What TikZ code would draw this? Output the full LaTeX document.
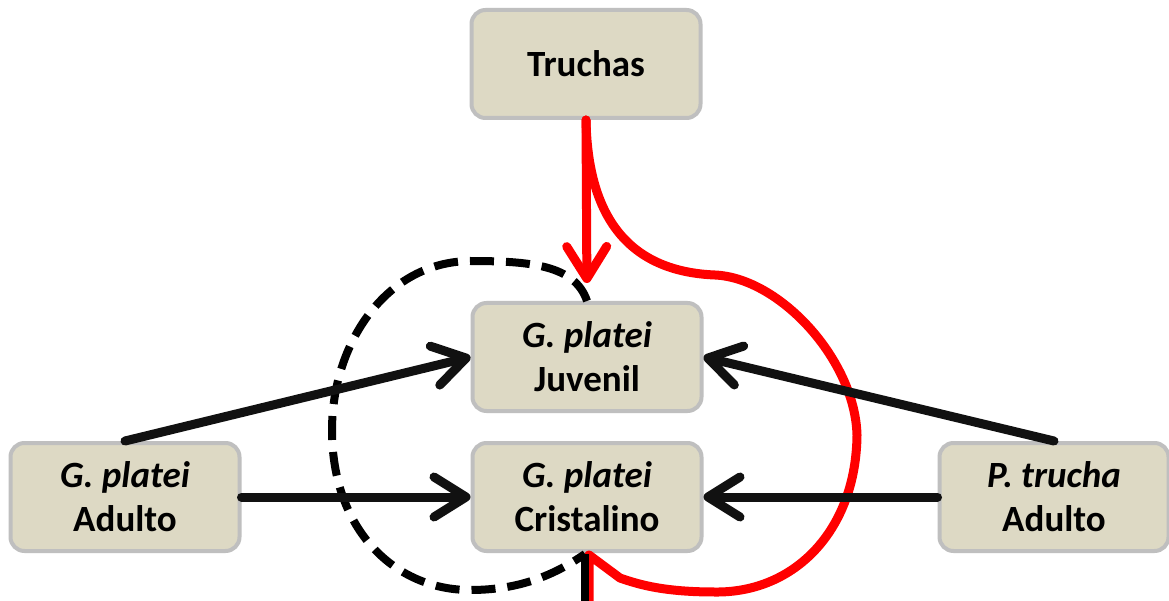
\documentclass[tikz,border=0pt]{standalone}
\usepackage{fontspec}
\setmainfont{Carlito}
\usetikzlibrary{arrows.meta}
\definecolor{boxfill}{HTML}{DDD9C4}
\definecolor{boxline}{HTML}{BFBFBF}
\definecolor{ink}{HTML}{111111}
\definecolor{redline}{HTML}{FF0000}
\begin{document}
\begin{tikzpicture}[x=1pt,y=-1pt,
  box/.style={draw=boxline, line width=4pt, fill=boxfill, rounded corners=14pt,
    minimum width=229pt, minimum height=108pt, align=center, inner sep=0pt,
    font=\fontsize{37}{44}\selectfont\bfseries},
  link/.style={draw=ink, line width=9pt, line cap=round,
    -{Straight Barb[length=32pt,width=40pt,round]}},
  redlink/.style={draw=redline, line width=9pt, line cap=round, line join=round},
  dashlink/.style={draw=black, line width=8pt, dash pattern=on 24pt off 12pt}]
\useasboundingbox (0,0) rectangle (1169,601);
\fill[white] (0,0) rectangle (1169,601);

\node[box] (tr)  at (586,64)  {Truchas};
\node[box] (juv) at (587,357) {{\itshape G. platei}\\Juvenil};
\node[box] (cri) at (587,497) {{\itshape G. platei}\\Cristalino};
\node[box] (ga)  at (125,497) {{\itshape G. platei}\\Adulto};
\node[box] (pt)  at (1054,497) {{\itshape P. trucha}\\Adulto};

\coordinate (rtip) at (589,555);
\coordinate (rstub) at (589,601);
\coordinate (btip) at (585,554);
\coordinate (bstub) at (585,601);

% red connectors
\draw[redlink, -{Straight Barb[length=32pt,width=40pt,round]}, shorten >=18pt] (tr.south) -- (juv.north);
\draw[redlink] (tr.south) .. controls (588,230) and (640,272) .. (715,275)
  .. controls (780,278) and (855,360) .. (857,435)
  .. controls (856,530) and (795,593) .. (715,592)
  .. controls (665,592) and (640,585) .. (620,578) -- (rtip) -- (rstub);

% dashed black loop
\draw[dashlink] (juv.north) .. controls (575,265) and (530,261) .. (470,261)
  .. controls (385,262) and (332,345) .. (332,430)
  .. controls (332,530) and (395,590) .. (470,590)
  .. controls (515,590) and (550,578) .. (btip);
\draw[draw=black, line width=8pt] (btip) -- (bstub);

% black arrows
\draw[link] (ga.north) -- (juv.west);
\draw[link] (ga.east) -- (cri.west);
\draw[link] (pt.north) -- (juv.east);
\draw[link] (pt.west) -- (cri.east);
\end{tikzpicture}
\end{document}
